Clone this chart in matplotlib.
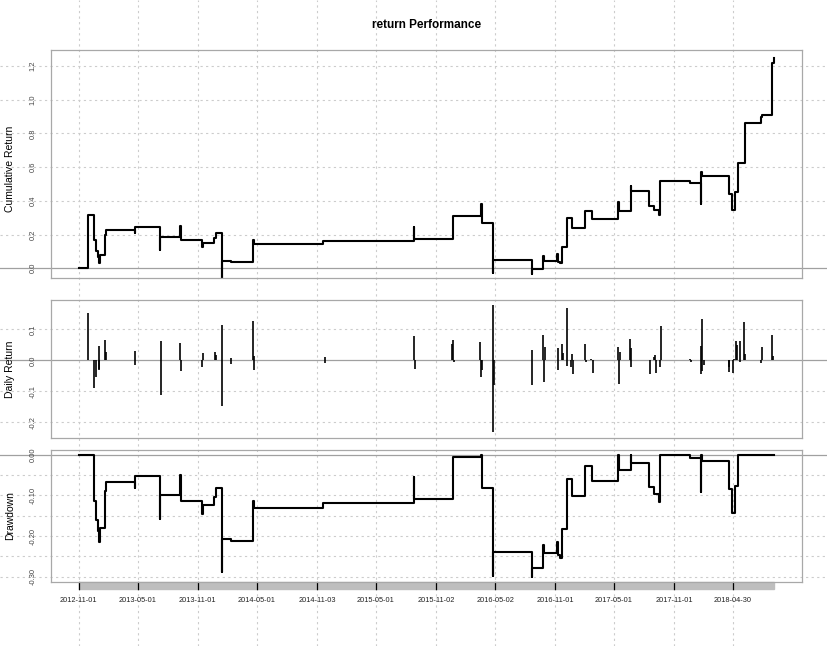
import numpy as np
import pandas as pd
import matplotlib
matplotlib.use("Agg")
import matplotlib.pyplot as plt
import matplotlib.dates as mdates
from matplotlib.patches import Rectangle
from matplotlib.transforms import blended_transform_factory

plt.rcParams['font.family'] = ['Liberation Sans', 'DejaVu Sans']

# cumulative return (value holds until next date)
cum_dates = [
    "2012-11-01", "2012-11-30", "2012-12-19", "2012-12-24", "2012-12-31",
    "2013-01-04", "2013-01-07", "2013-01-22", "2013-01-25", "2013-04-23",
    "2013-04-24", "2013-07-09", "2013-07-10", "2013-09-09", "2013-09-10",
    "2013-11-15", "2013-11-18", "2013-12-20", "2013-12-27", "2014-01-14",
    "2014-01-15", "2014-02-10", "2014-04-21", "2014-04-22", "2014-11-20",
    "2015-08-27", "2015-08-28", "2015-12-23", "2016-03-18", "2016-03-21",
    "2016-04-25", "2016-04-26", "2016-08-22", "2016-08-23", "2016-09-26",
    "2016-09-27", "2016-11-08", "2016-11-09", "2016-11-17", "2016-11-23",
    "2016-12-08", "2016-12-23", "2017-02-02", "2017-02-23", "2017-05-12",
    "2017-05-15", "2017-06-21", "2017-06-22", "2017-08-16", "2017-09-01",
    "2017-09-15", "2017-09-20", "2017-12-21", "2018-01-23", "2018-01-24",
    "2018-01-25", "2018-04-18", "2018-04-27", "2018-05-07", "2018-05-17",
    "2018-06-06", "2018-07-27", "2018-07-30", "2018-08-27", "2018-09-04",
]
cum_values = [
    0.000, 0.316, 0.168, 0.105, 0.069,
    0.033, 0.079, 0.198, 0.227, 0.210,
    0.247, 0.108, 0.187, 0.251, 0.168,
    0.124, 0.152, 0.178, 0.208, -0.065,
    0.045, 0.036, 0.168, 0.144, 0.160,
    0.243, 0.174, 0.310, 0.380, 0.267,
    -0.030, 0.049, -0.035, -0.004, 0.073,
    0.045, 0.083, 0.040, 0.030, 0.128,
    0.297, 0.241, 0.342, 0.292, 0.395,
    0.342, 0.488, 0.458, 0.371, 0.346,
    0.317, 0.518, 0.508, 0.381, 0.573,
    0.549, 0.441, 0.346, 0.454, 0.626,
    0.864, 0.895, 0.911, 1.215, 1.246,
]

# daily returns (non-zero days only)
ret_dates = [
    "2012-11-30", "2012-12-19", "2012-12-24", "2013-01-02", "2013-01-03",
    "2013-01-04", "2013-01-22", "2013-01-25", "2013-04-23", "2013-04-24",
    "2013-07-11", "2013-07-12", "2013-09-09", "2013-09-10", "2013-11-14",
    "2013-11-18", "2013-12-23", "2013-12-27", "2014-01-15", "2014-01-16",
    "2014-02-10", "2014-02-13", "2014-04-21", "2014-04-22", "2014-04-24",
    "2014-11-26", "2014-11-27", "2015-08-28", "2015-08-31", "2015-12-22",
    "2015-12-24", "2015-12-28", "2016-03-17", "2016-03-18", "2016-03-21",
    "2016-04-25", "2016-04-26", "2016-04-28", "2016-08-22", "2016-08-23",
    "2016-09-26", "2016-09-27", "2016-09-30", "2016-11-09", "2016-11-10",
    "2016-11-21", "2016-11-24", "2016-12-07", "2016-12-08", "2016-12-21",
    "2016-12-23", "2016-12-26", "2017-02-02", "2017-02-03", "2017-02-20",
    "2017-02-24", "2017-05-12", "2017-05-15", "2017-05-19", "2017-06-20",
    "2017-06-22", "2017-06-23", "2017-08-18", "2017-09-01", "2017-09-05",
    "2017-09-06", "2017-09-18", "2017-09-21", "2017-12-21", "2017-12-22",
    "2018-01-23", "2018-01-24", "2018-01-25", "2018-01-26", "2018-02-01",
    "2018-04-17", "2018-04-20", "2018-04-30", "2018-05-03", "2018-05-10",
    "2018-05-14", "2018-05-21", "2018-05-22", "2018-06-05", "2018-06-08",
    "2018-07-27", "2018-07-30", "2018-08-28", "2018-08-31",
]
ret_values = [
    0.154, -0.088, -0.055, 0.045, -0.032,
    -0.027, 0.066, 0.027, 0.030, -0.014,
    0.062, -0.110, 0.056, -0.033, -0.020,
    0.024, 0.027, 0.016, 0.114, -0.146,
    -0.011, 0.008, 0.127, -0.030, 0.014,
    0.011, -0.008, 0.078, -0.028, 0.053,
    0.066, -0.004, 0.059, -0.053, -0.030,
    0.178, -0.230, -0.080, 0.033, -0.080,
    0.082, -0.069, 0.042, 0.040, -0.031,
    0.053, 0.024, 0.169, -0.018, -0.020,
    0.020, -0.043, 0.053, -0.004, 0.003,
    -0.040, 0.043, -0.076, 0.027, 0.069,
    0.039, -0.020, -0.044, 0.010, 0.017,
    -0.040, -0.020, 0.111, 0.006, -0.006,
    -0.044, 0.046, -0.033, 0.132, -0.015,
    -0.020, -0.038, -0.040, 0.005, 0.062,
    0.049, 0.062, -0.004, 0.124, 0.020,
    -0.010, 0.043, 0.082, 0.014,
]

tick_labels = [
    "2012-11-01", "2013-05-01", "2013-11-01", "2014-05-01", "2014-11-03",
    "2015-05-01", "2015-11-02", "2016-05-02", "2016-11-01", "2017-05-01",
    "2017-11-01", "2018-04-30",
]

cum = pd.Series(cum_values, index=pd.to_datetime(cum_dates))
rets = pd.Series(ret_values, index=pd.to_datetime(ret_dates))
wealth = 1 + cum
drawdown = wealth / np.maximum(wealth.cummax(), 1.0) - 1
tick_pos = mdates.date2num(pd.to_datetime(tick_labels))

# x range with the usual 4% padding
x_start = mdates.date2num(cum.index[0])
x_end = mdates.date2num(cum.index[-1])
pad = 0.04 * (x_end - x_start)
xlim = (x_start - pad, x_end + pad)

W, H = 828, 646
fig = plt.figure(figsize=(W / 100, H / 100), dpi=100)

left, right = 50.7 / W, 802 / W
def panel(top_px, bot_px):
    return [left, 1 - bot_px / H, right - left, (bot_px - top_px) / H]

GRID = '#CCCCCC'
BOX = '#A8A8A8'
ZERO = '#A0A0A0'
LABEL = '#444444'

# background axis for vertical grid lines through the whole figure
bg = fig.add_axes([0, 0, 1, 1], zorder=0)
span = (xlim[1] - xlim[0]) / (right - left)
bg.set_xlim(xlim[0] - left * span, xlim[1] + (1 - right) * span)
bg.set_ylim(0, 1)
bg.axis('off')
for t in tick_pos:
    bg.axvline(t, color=GRID, lw=0.8, ls=(0, (2, 3)))

ax1 = fig.add_axes(panel(50, 278), zorder=1)
ax2 = fig.add_axes(panel(300, 438), zorder=1)
ax3 = fig.add_axes(panel(450, 582), zorder=1)

ext = (-left / (right - left), 1 + (1 - right) / (right - left))

def style(ax, ylim, grid_vals, tick_vals, tick_fmt, ylabel, label_y=0.5):
    ax.set_facecolor('none')
    ax.set_xlim(xlim)
    ax.set_ylim(ylim)
    trans = ax.get_yaxis_transform()
    for g in grid_vals:
        ax.plot(ext, [g, g], transform=trans, color=GRID, lw=0.8,
                ls=(0, (2, 3)), clip_on=False, zorder=0)
    ax.plot(ext, [0, 0], transform=trans, color=ZERO, lw=0.9,
            clip_on=False, zorder=0.5)
    for s in ax.spines.values():
        s.set_color(BOX)
        s.set_linewidth(0.9)
    ax.set_xticks([])
    ax.set_yticks(tick_vals, [tick_fmt.format(v) for v in tick_vals])
    ax.tick_params(axis='y', length=0, pad=10, labelsize=5.4, labelcolor=LABEL,
                   labelrotation=90)
    for lab in ax.get_yticklabels():
        lab.set_va('center')
    ax.set_ylabel(ylabel, fontsize=7.5)
    ax.yaxis.set_label_coords(-0.048, label_y)

# cumulative return
style(ax1, (-0.0575, 1.295), [0.2, 0.4, 0.6, 0.8, 1.0, 1.2],
      [0.0, 0.2, 0.4, 0.6, 0.8, 1.0, 1.2], "{:.1f}", "Cumulative Return", 0.478)
ax1.step(mdates.date2num(cum.index), cum.values, where='post', color='black',
         lw=1.5, zorder=2)

# daily returns
style(ax2, (-0.25, 0.1945), [0.1, -0.1, -0.2],
      [0.1, 0.0, -0.1, -0.2], "{:.1f}", "Daily Return")
ax2.vlines(mdates.date2num(rets.index), 0, rets.values, color='black',
           lw=1.2, zorder=2)

# drawdown
style(ax3, (-0.313, 0.012), [-0.05, -0.10, -0.15, -0.20, -0.25, -0.30],
      [0.0, -0.1, -0.2, -0.3], "{:.2f}", "Drawdown")
ax3.step(mdates.date2num(drawdown.index), drawdown.values, where='post',
         color='black', lw=1.5, zorder=2)

# grey time bar with tick marks under the bottom panel
bt = blended_transform_factory(ax3.transData, ax3.transAxes)
bar_h = 7 / 132
ax3.add_patch(Rectangle((x_start, -bar_h), x_end - x_start, bar_h,
                        transform=bt, color='#BEBEBE', clip_on=False, zorder=1))
for t in tick_pos:
    ax3.plot([t, t], [-bar_h, 0], transform=bt, color='black', lw=0.9,
             clip_on=False, zorder=2)
for t, lab in zip(tick_pos, tick_labels):
    ax3.text(t, -(600 - 582) / 132, lab, transform=bt, ha='center',
             va='center', fontsize=5.3, color='#222222')

fig.text(0.5 * (left + right), 1 - 25 / H, "return Performance",
         ha='center', va='center', fontsize=8.5, fontweight='bold')

fig.savefig("out.png", dpi=100)
